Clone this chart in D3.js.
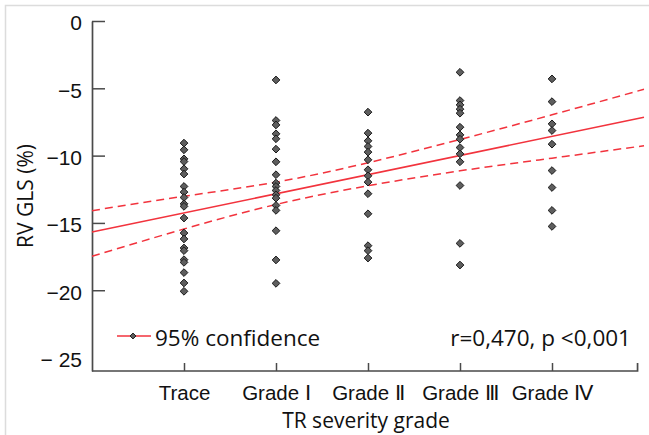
<!DOCTYPE html>
<html>
<head>
<meta charset="utf-8">
<script src="https://cdn.jsdelivr.net/npm/d3@7"></script>
<style>
body { margin: 0; background: #fff; }
svg { display: block; font-family: "Open Sans", Lato, sans-serif; }
</style>
</head>
<body>
<svg id="chart" width="649" height="435"></svg>
<script>
// TR severity grade vs RV GLS scatter with fitted line and 95% band

const categories = ["Trace", "Grade Ⅰ", "Grade Ⅱ", "Grade Ⅲ", "Grade Ⅳ"];

// RV GLS (%) per grade
const traceVals = [-9.07, -9.57, -10.24, -10.44, -10.98, -11.37, -12.29, -12.71, -13.11, -13.58,
    -13.77, -14.64, -15.75, -16.19, -16.86, -17.06, -17.73, -17.93, -18.69, -19.46, -20.08];
const grade1Vals = [-4.38, -7.39, -7.72, -8.38, -8.75, -9.52, -10.46, -11.42, -12.04, -12.29,
    -12.59, -12.91, -13.16, -13.70, -14.07, -15.58, -17.75, -19.49];
const grade2Vals = [-6.77, -8.33, -8.90, -9.32, -9.74, -10.31, -11.05, -11.50, -11.97, -12.83,
    -14.32, -16.69, -17.06, -17.61];
const grade3Vals = [-3.81, -5.91, -6.23, -6.55, -6.85, -7.89, -8.46, -8.78, -9.40, -9.87,
    -10.46, -12.22, -16.52, -18.13];
const grade4Vals = [-4.30, -5.99, -7.64, -8.14, -9.15, -11.11, -12.37, -14.07, -15.26];
const groupVals = [traceVals, grade1Vals, grade2Vals, grade3Vals, grade4Vals];

// fitted line and confidence band (grade position 0..6)
const fitX = [0, 6];
const fitY = [-15.68, -7.15];
const bandX = [0, 1, 2, 3, 4, 5, 6];
const upperBand = [-14.09, -13.02, -11.97, -10.53, -8.80, -6.97, -5.07];
const lowerBand = [-17.48, -15.45, -13.63, -12.24, -11.13, -10.19, -9.27];

const yTicks = [0, -5, -10, -15, -20, -25];
const yTickLabels = ["0", "−5", "−10", "−15", "−20", "− 25"];

const RED = "#f2333d";
const AXIS = "#4a4a4a";

const svg = d3.select("#chart");

// faint frame of the original figure
svg.append("path")
    .attr("d", "M5.5,440V5.5H660")
    .attr("fill", "none")
    .attr("stroke", "#dcdcdc")
    .attr("stroke-width", 1.5);

const x = d3.scaleLinear().domain([0, 6]).range([92, 644]);
const y = d3.scaleLinear().domain([0, -26]).range([21, 371]);
const xAxisEnd = 5.93;

// y axis
const yAxis = svg.append("g")
    .attr("transform", "translate(" + x(0) + ",0)")
    .call(d3.axisLeft(y)
        .tickValues(yTicks)
        .tickFormat((d, i) => yTickLabels[i])
        .tickSize(-13)
        .tickSizeOuter(0)
        .tickPadding(10));
yAxis.select(".domain").attr("stroke", AXIS).attr("stroke-width", 1.7);
yAxis.selectAll(".tick line").attr("stroke", AXIS).attr("stroke-width", 1.5)
    .attr("display", d => d === -25 ? "none" : null);
yAxis.selectAll(".tick text")
    .attr("font-size", 21)
    .attr("fill", "#111")
    .attr("dy", "0.42em");

// x axis
const xAxis = svg.append("g")
    .attr("transform", "translate(0," + y(-26) + ")")
    .call(d3.axisBottom(x)
        .tickValues([1, 2, 3, 4, 5])
        .tickFormat(d => categories[d - 1])
        .tickSize(-8)
        .tickPadding(14));
xAxis.select(".domain").remove();
xAxis.selectAll(".tick line").attr("stroke", AXIS).attr("stroke-width", 1.5);
xAxis.selectAll(".tick text").attr("font-size", 20.5).attr("fill", "#111");
xAxis.append("path")
    .attr("d", "M" + x(0) + ",0H" + x(xAxisEnd) + "V-8")
    .attr("fill", "none")
    .attr("stroke", AXIS)
    .attr("stroke-width", 1.7);

// axis titles
svg.append("text")
    .attr("transform", "translate(33,196) rotate(-90)")
    .attr("text-anchor", "middle")
    .attr("font-size", 21)
    .attr("fill", "#111")
    .text("RV GLS (%)");

svg.append("text")
    .attr("x", 366)
    .attr("y", 428)
    .attr("text-anchor", "middle")
    .attr("font-size", 21)
    .attr("fill", "#111")
    .text("TR severity grade");

// regression line and band
const line = d3.line().x(d => x(d[0])).y(d => y(d[1]));
svg.append("path")
    .attr("d", line(d3.zip(fitX, fitY)))
    .attr("fill", "none")
    .attr("stroke", RED)
    .attr("stroke-width", 1.5);

const bandLine = d3.line().x(d => x(d[0])).y(d => y(d[1])).curve(d3.curveNatural);
[upperBand, lowerBand].forEach(b => {
    svg.append("path")
        .attr("d", bandLine(d3.zip(bandX, b)))
        .attr("fill", "none")
        .attr("stroke", RED)
        .attr("stroke-width", 1.5)
        .attr("stroke-dasharray", "8,5");
});

// points
const diamond = d3.symbol().type(d3.symbolDiamond2).size(38);
groupVals.forEach((vals, i) => {
    svg.append("g")
        .selectAll("path")
        .data(vals)
        .join("path")
        .attr("transform", d => "translate(" + x(i + 1) + "," + y(d) + ")")
        .attr("d", diamond)
        .attr("fill", "#5e5e5e")
        .attr("stroke", "#1a1a1a")
        .attr("stroke-width", 1);
});

// legend
svg.append("line")
    .attr("x1", 117).attr("x2", 151)
    .attr("y1", 336).attr("y2", 336)
    .attr("stroke", RED)
    .attr("stroke-width", 1.5);
svg.append("path")
    .attr("transform", "translate(133,336)")
    .attr("d", d3.symbol().type(d3.symbolDiamond2).size(22))
    .attr("fill", "#5e5e5e")
    .attr("stroke", "#1a1a1a")
    .attr("stroke-width", 1);
svg.append("text")
    .attr("x", 155)
    .attr("y", 346)
    .attr("font-size", 22.5)
    .attr("fill", "#111")
    .text("95% confidence");
svg.append("text")
    .attr("x", 631)
    .attr("y", 346)
    .attr("text-anchor", "end")
    .attr("font-size", 22.5)
    .attr("fill", "#111")
    .text("r=0,470, p <0,001");
</script>
</body>
</html>
